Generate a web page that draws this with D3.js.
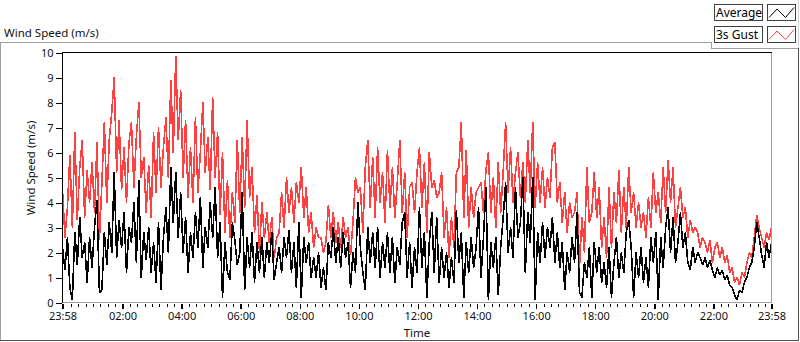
<!DOCTYPE html>
<html>
<head>
<meta charset="utf-8">
<script src="https://cdn.jsdelivr.net/npm/d3@7"></script>
<style>
	body { margin: 0; background: #fff; }
	svg { display: block; font-family: 'Noto Sans', sans-serif; }
</style>
</head>
<body>
<div id="chart"></div>
<script>
/**
 *  Wind speed chart
 *  24 hours of 5-minute samples, average and 3s gust.
 */

// Samples start at 23:58 and are 5 minutes apart
var startTime = new Date(2000, 0 , 1, 23, 58);
var sampleMinutes = 5;

var gust = [
	4.5, 2.6, 3.8, 5.9, 3.0, 6.8, 3.3, 5.4, 6.5, 3.4,
	5.3, 4.0, 5.6, 3.6, 6.4, 2.5, 4.8, 7.2, 4.0, 6.5,
	7.6, 9.0, 5.2, 7.3, 4.5, 6.2, 4.0, 6.4, 7.2, 4.6,
	6.6, 8.0, 5.0, 5.8, 3.6, 5.5, 3.4, 6.8, 4.4, 7.0,
	4.6, 6.2, 7.4, 5.0, 8.9, 6.0, 9.85, 6.5, 8.5, 5.0,
	7.3, 4.2, 6.2, 4.0, 7.4, 4.4, 6.0, 8.0, 5.2, 6.6,
	4.5, 8.2, 5.0, 6.8, 3.5, 6.0, 2.8, 4.9, 2.6, 4.4,
	3.2, 6.5, 3.6,
	6.6, 3.8, 7.3, 4.2, 5.4, 2.8, 4.3, 2.0, 4.0, 2.6,
	3.6, 2.4, 3.4, 1.8, 2.6, 2.8, 4.4, 3.0, 5.0, 3.6,
	4.6, 3.2, 4.8, 4.0, 5.4, 3.4, 4.6, 2.8, 3.6, 2.2,
	3.0, 2.6, 2.6, 2.0, 2.4, 3.9, 2.6, 3.6, 2.4, 3.2,
	2.2, 3.4, 2.6, 3.0, 1.9, 3.2, 5.0, 4.4, 4.6, 2.8,
	5.4, 6.5, 3.8, 5.8, 3.4, 6.2, 4.0, 5.2, 3.2, 6.1,
	3.8, 5.4, 3.4, 4.8, 6.5, 3.6, 5.2, 2.6, 4.6,
	4.8, 3.6, 5.2, 6.2, 3.8, 5.6, 2.8, 6.0, 4.6, 4.9,
	4.2, 4.4, 5.2, 2.6, 3.8, 1.8, 3.4, 2.2, 5.2, 5.4,
	7.2, 3.4, 6.1, 3.0, 4.6, 3.4, 4.4, 4.6, 4.8, 3.6,
	5.3, 6.0, 3.6, 5.0, 3.0, 5.6, 3.6, 5.2, 7.2, 4.4,
	6.2, 4.0, 5.2, 6.0, 4.2, 5.6, 4.0, 6.5, 4.4, 7.2,
	3.8, 5.6, 4.0, 5.4, 3.8, 5.0, 4.2, 6.2, 6.4, 4.0,
	4.8, 3.2, 4.4, 2.8, 4.0, 3.4, 3.6, 4.4, 1.4, 3.4,
	2.0, 5.4, 3.2,
	3.6, 5.2, 3.4, 4.6, 2.2, 3.4, 1.8, 4.6, 2.2, 4.4,
	3.2, 5.3, 2.8, 4.6, 3.0, 5.4, 3.6, 4.4, 3.0, 4.0,
	3.0, 3.6, 2.6, 4.2, 3.0, 5.2, 3.6, 4.4, 3.2, 5.4,
	3.6, 5.7, 4.0, 5.4, 3.0, 3.8, 4.6, 3.4, 3.8, 2.6,
	3.3, 2.8, 3.0, 2.8, 2.2, 2.6, 2.4, 2.0, 2.5, 1.6,
	2.2, 2.4, 1.8, 2.2, 1.6, 1.9, 1.2, 1.4, 0.8, 1.0,
	0.7, 1.2, 1.0, 1.6, 2.0, 1.8, 2.6, 3.5, 3.0, 2.6,
	2.2, 2.8, 2.5, 3.0
];

var average = [
	2.2, 1.3, 2.6, 0.6, 0.1, 2.8, 1.5, 3.4, 1.8, 2.4,
	0.8, 2.6, 1.4, 3.0, 4.1, 0.4, 0.5, 2.8, 1.5, 3.2,
	2.0, 5.2, 1.8, 3.3, 2.2, 3.6, 1.2, 3.0, 2.4, 4.0,
	1.6, 4.9, 1.0, 2.8, 1.7, 3.0, 1.2, 2.4, 0.8, 3.2,
	0.5, 2.6, 3.8, 2.0, 5.4, 3.2, 5.2, 2.6, 4.4, 2.0,
	3.4, 1.2, 2.8, 1.8, 3.6, 2.2, 4.2, 1.4, 3.0, 2.2,
	4.0, 2.6, 4.6, 1.8, 3.2, 0.2, 2.4, 1.2, 0.9, 3.2,
	2.5, 1.5, 2.0,
	4.4, 0.5, 2.6, 1.4, 2.8, 0.8, 2.4, 1.2, 2.6, 1.0,
	2.4, 1.6, 2.8, 0.9, 1.6, 2.2, 1.2, 2.6, 1.8, 2.9,
	1.2, 2.4, 0.6, 3.2, 0.2, 2.6, 1.6, 2.4, 1.0, 1.8,
	1.0, 2.0, 0.6, 1.4, 0.5, 2.4, 1.8, 3.0, 1.6, 2.6,
	1.4, 2.8, 1.8, 2.4, 0.6, 2.0, 1.2, 4.0, 2.2, 1.2,
	0.5, 3.0, 1.6, 2.8, 1.4, 3.0, 1.0, 2.4, 1.4, 2.8,
	1.2, 2.6, 0.8, 2.2, 1.5, 3.2, 3.6, 1.0, 2.4,
	0.6, 2.2, 1.2, 3.8, 1.4, 2.8, 0.2, 2.4, 3.6, 1.2,
	3.4, 0.8, 2.2, 1.0, 2.0, 0.6, 1.8, 0.8, 3.7, 1.6,
	2.8, 0.2, 2.4, 1.2, 2.6, 1.4, 2.2, 3.8, 1.0, 2.6,
	4.6, 0.1, 2.4, 1.4, 2.6, 0.3, 2.2, 3.4, 4.8, 2.0,
	3.0, 1.8, 4.6, 2.6, 3.2, 5.0, 1.2, 3.6, 2.4, 5.0,
	0.1, 2.8, 1.6, 3.2, 1.8, 3.0, 2.2, 3.4, 1.6, 2.8,
	1.4, 2.4, 0.5, 2.0, 1.2, 2.6, 1.6, 3.6, 0.4, 0.2,
	1.6, 1.0, 2.2,
	0.2, 2.4, 1.2, 2.2, 0.8, 1.6, 0.6, 2.2, 0.2, 1.6,
	2.6, 1.0, 2.0, 1.2, 2.8, 3.3, 2.2, 0.2, 2.0, 1.0,
	2.2, 0.8, 1.8, 0.6, 2.6, 1.6, 2.8, 0.1, 2.6, 1.4,
	3.0, 3.8, 2.0, 3.4, 1.6, 2.4, 3.6, 2.2, 2.8, 1.6,
	1.3, 2.2, 1.6, 2.0, 1.8, 1.5, 1.8, 1.4, 1.7, 1.3,
	1.0, 1.4, 1.1, 1.3, 0.9, 1.1, 0.7, 0.6, 0.3, 0.1,
	0.5, 0.4, 0.8, 1.0, 1.4, 1.6, 2.2, 3.2, 2.6, 1.9,
	1.4, 2.4, 1.8, 2.4
];

var timeLabels = ['23:58', '02:00', '04:00', '06:00', '08:00', '10:00', '12:00',
	'14:00', '16:00', '18:00', '20:00', '22:00', '23:58'];
var yTicks = [0, 1, 2, 3, 4, 5, 6, 7, 8, 9, 10];
var seriesNames = ['Average', '3s Gust'];
var seriesColors = ['#000000', '#ff4040'];

(function() {

	var width = 800,
		height = 342,
		plot = { left: 62.5, right: 771.5, top: 52.5, bottom: 302.5 };

	var endTime = d3.timeMinute.offset(startTime, sampleMinutes * (gust.length - 1));
	var times = gust.map(function(d, i) {
		return d3.timeMinute.offset(startTime, i * sampleMinutes);
	});

	// Major tick times from the labels (first and last are the ends)
	var majorTimes = timeLabels.map(function(label, i) {
		if (i === 0) return startTime;
		if (i === timeLabels.length - 1) return endTime;
		var p = label.split(':');
		return new Date(2000, 0, 2, +p[0], +p[1]);
	});
	var minorTimes = d3.timeMinute.every(15).range(d3.timeMinute.offset(startTime, 3), endTime)
		.filter(function(t) { return t.getMinutes() !== 0 || t.getHours() % 2 !== 0; });

	var xScale = d3.scaleTime()
		.domain([startTime, endTime])
		.range([plot.left, plot.right]);
	var yScale = d3.scaleLinear()
		.domain([0, 10])
		.range([plot.bottom, plot.top]);

	var svg = d3.select('#chart').append('svg')
		.attr('width', width)
		.attr('height', height);

	svg.append('rect').attr('width', width).attr('height', height).attr('fill', '#fff');

	// Chart title
	svg.append('text')
		.attr('x', 4)
		.attr('y', 37)
		.attr('font-size', 11.5)
		.attr('fill', '#111')
		.text('Wind Speed (m/s)');

	// Outer frame
	var frame = svg.append('g').attr('fill', 'none').attr('shape-rendering', 'crispEdges');
	frame.append('path').attr('d', 'M0.5,341V42.5H711.5V48.5H799').attr('stroke', '#a0a0a0');
	frame.append('path').attr('d', 'M798.5,0V48').attr('stroke', '#d4d4d4');
	frame.append('path').attr('d', 'M0,340.5H798.5V48').attr('stroke', '#505050');

	// Legend: name box and line sample box for each series
	var legend = svg.append('g').attr('class', 'legend');
	seriesNames.forEach(function(name, i) {
		var y0 = 4.5 + i * 22;
		var g = legend.append('g').attr('transform', 'translate(0,' + y0 + ')');
		g.append('rect')
			.attr('x', 714.5).attr('y', 0).attr('width', 48).attr('height', 16)
			.attr('fill', '#fff').attr('stroke', '#404040').attr('shape-rendering', 'crispEdges');
		g.append('text')
			.attr('x', 716).attr('y', 12.5)
			.attr('font-size', 12).attr('fill', '#000')
			.text(name);
		g.append('rect')
			.attr('x', 767.5).attr('y', 0).attr('width', 28).attr('height', 16)
			.attr('fill', '#fff').attr('stroke', '#404040').attr('shape-rendering', 'crispEdges');
		g.append('path')
			.attr('d', 'M769,13L777,4.5L785.5,13L794,3')
			.attr('fill', 'none')
			.attr('stroke', seriesColors[i]);
	});

	// Plot clip
	svg.append('clipPath').attr('id', 'plot-clip')
		.append('rect')
		.attr('x', plot.left).attr('y', plot.top)
		.attr('width', plot.right - plot.left).attr('height', plot.bottom - plot.top);

	// Series lines, gust first so average sits on top
	var line = d3.line()
		.x(function(d, i) { return xScale(times[i]); })
		.y(function(d) { return yScale(d); });

	var gLines = svg.append('g').attr('clip-path', 'url(#plot-clip)');
	[gust, average].forEach(function(values, k) {
		gLines.append('path')
			.datum(values)
			.attr('d', line)
			.attr('fill', 'none')
			.attr('stroke', seriesColors[1 - k])
			.attr('stroke-width', 1.6)
			.attr('stroke-linejoin', 'bevel')
			.attr('shape-rendering', 'crispEdges');
	});

	// Plot border: dark top/left, grey bottom/right
	var border = svg.append('g').attr('fill', 'none').attr('shape-rendering', 'crispEdges');
	border.append('path')
		.attr('d', 'M' + plot.left + ',' + plot.bottom + 'V' + plot.top + 'H' + plot.right)
		.attr('stroke', '#000');
	border.append('path')
		.attr('d', 'M' + plot.left + ',' + plot.bottom + 'H' + plot.right + 'V' + plot.top)
		.attr('stroke', '#a0a0a0');

	// y-axis
	var yAxis = d3.axisLeft(yScale)
		.tickValues(yTicks)
		.tickSize(6)
		.tickPadding(2)
		.tickFormat(d3.format('d'));
	var gY = svg.append('g')
		.attr('transform', 'translate(' + (plot.left - 1) + ',0)')
		.call(yAxis);
	gY.select('.domain').remove();
	gY.selectAll('text').attr('font-size', 11).attr('font-family', 'Noto Sans').attr('fill', '#111');
	gY.selectAll('line').attr('stroke', '#000').attr('shape-rendering', 'crispEdges');

	// x-axis, minor then major ticks
	var gXMinor = svg.append('g')
		.attr('transform', 'translate(0,' + (plot.bottom + 1) + ')')
		.call(d3.axisBottom(xScale).tickValues(minorTimes).tickSize(3).tickFormat(''));
	gXMinor.select('.domain').remove();
	gXMinor.selectAll('line').attr('stroke', '#000').attr('shape-rendering', 'crispEdges');

	var gX = svg.append('g')
		.attr('transform', 'translate(0,' + (plot.bottom + 1) + ')')
		.call(d3.axisBottom(xScale)
			.tickValues(majorTimes)
			.tickSize(5)
			.tickPadding(4)
			.tickFormat(function(d, i) { return timeLabels[i]; }));
	gX.select('.domain').remove();
	gX.selectAll('line').attr('stroke', '#000').attr('stroke-width', 1.5).attr('shape-rendering', 'crispEdges');
	gX.selectAll('text').attr('font-size', 11).attr('font-family', 'Noto Sans').attr('fill', '#111');

	// Axis titles
	svg.append('text')
		.attr('x', (plot.left + plot.right) / 2)
		.attr('y', 337)
		.attr('text-anchor', 'middle')
		.attr('font-size', 11.5)
		.attr('fill', '#111')
		.text('Time');
	svg.append('text')
		.attr('transform', 'translate(35,168) rotate(-90)')
		.attr('text-anchor', 'middle')
		.attr('font-size', 11.5)
		.attr('fill', '#111')
		.text('Wind Speed (m/s)');

})();
</script>
</body>
</html>
